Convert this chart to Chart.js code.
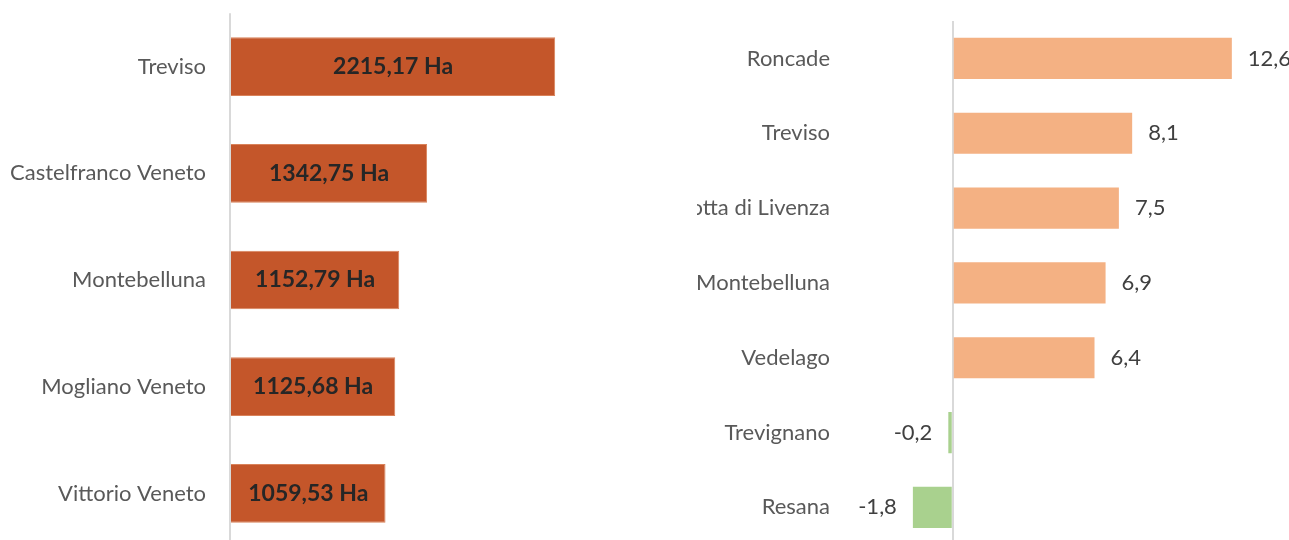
<!DOCTYPE html>
<html>
<head>
<meta charset="utf-8">
<script src="https://cdn.jsdelivr.net/npm/chart.js@4.4.0/dist/chart.umd.min.js"></script>
<style>
    html, body { margin: 0; padding: 0; background: #fff; overflow: hidden; width: 1289px; height: 540px; }
    .box { position: absolute; top: 0; }
    #leftBox { left: 0; width: 600px; height: 560px; }
    #rightBox { left: 697px; width: 592px; height: 558px; }
</style>
</head>
<body>
<div class="box" id="leftBox"><canvas id="areaChart"></canvas></div>
<div class="box" id="rightBox"><canvas id="growthChart"></canvas></div>
<script>
// Data
const areaTowns = ['Treviso', 'Castelfranco Veneto', 'Montebelluna', 'Mogliano Veneto', 'Vittorio Veneto'];
const areaValues = [2215.17, 1342.75, 1152.79, 1125.68, 1059.53];
const growthTowns = ['Roncade', 'Treviso', 'Motta di Livenza', 'Montebelluna', 'Vedelago', 'Trevignano', 'Resana'];
const growthValues = [12.6, 8.1, 7.5, 6.9, 6.4, -0.2, -1.8];

const FONT = 'Lato, "Open Sans", sans-serif';

// Draws value labels next to / inside each bar
const barValues = {
    id: 'barValues',
    afterDatasetsDraw(chart, args, opts) {
        const ctx = chart.ctx;
        const meta = chart.getDatasetMeta(0);
        const values = chart.data.datasets[0].data;
        ctx.save();
        ctx.font = opts.font;
        ctx.fillStyle = opts.color;
        ctx.textBaseline = 'middle';
        meta.data.forEach((bar, i) => {
            const v = values[i];
            const text = opts.format(v);
            if (opts.inside) {
                ctx.textAlign = 'center';
                ctx.fillText(text, (bar.x + bar.base) / 2, bar.y);
            } else if (v >= 0) {
                ctx.textAlign = 'left';
                ctx.fillText(text, bar.x + opts.offset, bar.y);
            } else {
                ctx.textAlign = 'right';
                ctx.fillText(text, bar.x - opts.offset, bar.y);
            }
        });
        ctx.restore();
    }
};

function zeroLine(c) {
    return c.tick && c.tick.value === 0 ? '#D9D9D9' : 'rgba(0,0,0,0)';
}

function buildOptions(cfg) {
    return {
        indexAxis: 'y',
        responsive: true,
        maintainAspectRatio: false,
        animation: false,
        layout: { padding: cfg.padding },
        plugins: {
            legend: { display: false },
            tooltip: { enabled: false },
            barValues: cfg.labels
        },
        scales: {
            x: {
                min: cfg.min,
                max: cfg.max,
                ticks: { display: false, stepSize: cfg.step },
                grid: { color: zeroLine, lineWidth: 2, drawTicks: false },
                border: { display: false }
            },
            y: {
                // tick marks are hidden, their length only makes the gap before the axis
                grid: { display: false, drawTicks: true, tickLength: cfg.gap },
                border: { display: false },
                ticks: {
                    color: '#595959',
                    padding: 0,
                    font: { family: FONT, size: 22 }
                },
                afterFit: function(scale) { scale.width = cfg.axisWidth; }
            }
        }
    };
}

// Left chart: area in hectares
new Chart(document.getElementById('areaChart'), {
    type: 'bar',
    data: {
        labels: areaTowns,
        datasets: [{
            data: areaValues,
            backgroundColor: '#C4562A',
            borderColor: '#D9825A',
            borderWidth: 1,
            categoryPercentage: 1,
            barPercentage: 0.55
        }]
    },
    options: buildOptions({
        padding: { top: 12, right: 3, bottom: 0, left: 0 },
        min: 0, max: 2500, step: 500,
        gap: 24, axisWidth: 230,
        labels: {
            inside: true,
            font: 'bold 23px ' + FONT,
            color: '#262626',
            format: v => v.toFixed(2).replace('.', ',') + ' Ha'
        }
    }),
    plugins: [barValues]
});

// Right chart: percent change
new Chart(document.getElementById('growthChart'), {
    type: 'bar',
    data: {
        labels: growthTowns,
        datasets: [{
            data: growthValues,
            backgroundColor: growthValues.map(v => v >= 0 ? '#F4B183' : '#A9D18E'),
            categoryPercentage: 1,
            barPercentage: 0.55
        }]
    },
    options: buildOptions({
        padding: { top: 21, right: 4, bottom: 2, left: 0 },
        min: -5, max: 15, step: 5,
        gap: 12, axisWidth: 145,
        labels: {
            inside: false,
            offset: 16,
            font: '22px ' + FONT,
            color: '#404040',
            format: v => v.toFixed(1).replace('.', ',')
        }
    }),
    plugins: [barValues]
});
</script>
</body>
</html>
